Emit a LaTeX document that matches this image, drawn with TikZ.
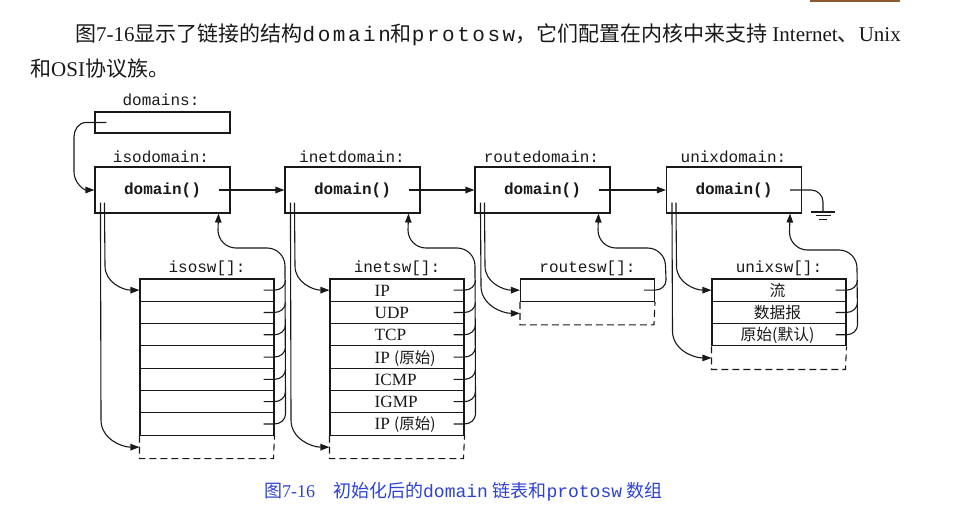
\documentclass[tikz,border=0pt]{standalone}
\usepackage{fontspec}
\setmainfont{Liberation Serif}
\newfontfamily\cjk{Noto Sans CJK SC}
\newfontfamily\cmono{Liberation Mono}
\newfontfamily\tmono[LetterSpace=12]{Liberation Mono}
\usetikzlibrary{arrows.meta}
\definecolor{capblue}{RGB}{45,65,215}
\definecolor{barbrown}{RGB}{140,90,50}
\definecolor{ink}{RGB}{25,25,25}
\begin{document}
\begin{tikzpicture}[x=1pt,y=-1pt,
  ln/.style={line width=1.1pt, draw=ink},
  arr/.style={ln, -{Triangle[length=9pt,width=6.5pt]}},
  dbox/.style={draw=ink, line width=1.1pt, minimum width=135pt, minimum height=46pt, inner sep=0pt,
     font=\fontsize{16}{16}\selectfont\cmono\bfseries, text=ink},
  ptrbox/.style={draw=ink, line width=1.1pt, minimum width=135pt, minimum height=21pt, inner sep=0pt},
  rowbox/.style={draw=ink, line width=1.1pt, minimum width=134pt, minimum height=22.3pt, inner sep=0pt},
  lbl/.style={font=\fontsize{16}{16}\selectfont\cmono, inner sep=0pt, text=ink},
  rowtxt/.style={font=\fontsize{17.2}{17.2}\selectfont, inner sep=0pt, text=ink},
  slot/.style={ln, dash pattern=on 7pt off 4pt},
  bodytxt/.style={anchor=base west, inner sep=0pt, font=\fontsize{21}{21}\selectfont, text=ink}
]
\useasboundingbox (0,0) rectangle (962,508);
\fill[barbrown] (810,0) rectangle (900,2.5);

% body text
\node[bodytxt] (txt1) at (75,42) {{\cjk 图}7-16{\cjk 显示了链接的结构}{\tmono domain}{\cjk 和}{\tmono protosw}{\cjk ，它们配置在内核中来支持} Internet{\cjk 、}Unix};
\node[bodytxt] (txt2) at (30,77) {{\cjk 和}OSI{\cjk 协议族。}};

% domains pointer
\node[lbl] (ldomains) at (161,100) {domains:};
\node[ptrbox] (dptr) at (162.5,122.5) {};

% domain structures
\node[lbl] (liso) at (161,157) {isodomain:};
\node[lbl] (linet) at (352,157) {inetdomain:};
\node[lbl] (lroute) at (541.5,157) {routedomain:};
\node[lbl] (lunix) at (733.5,157) {unixdomain:};
\node[dbox] (diso) at (162.5,190) {domain()};
\node[dbox] (dinet) at (352.5,190) {domain()};
\node[dbox] (droute) at (542.5,190) {domain()};
\node[dbox] (dunix) at (734,190) {domain()};

\draw[arr] ([xshift=12pt]dptr.west) -- (86,122.5) to[out=180,in=90] (74,137) -- (74,172) to[out=-90,in=180] (diso.west);
\draw[arr] ([xshift=-12pt]diso.east) -- (dinet.west);
\draw[arr] ([xshift=-12pt]dinet.east) -- (droute.west);
\draw[arr] ([xshift=-12pt]droute.east) -- (dunix.west);
% ground
\coordinate (gnd) at (823,212);
\draw[ln] ([xshift=-12pt]dunix.east) -- (811,190) to[out=0,in=90] (823,202) -- (gnd);
\draw[ln] ([xshift=-12pt]gnd) -- ([xshift=12pt]gnd);
\draw[ln] ([shift={(-7.5,3.8)}]gnd) -- ([shift={(7.5,3.8)}]gnd);
\draw[ln] ([shift={(-4,7.3)}]gnd) -- ([shift={(4,7.3)}]gnd);

% arrays
\node[lbl] (lisosw) at (207,268) {isosw[]:};
\node[lbl] (linetsw) at (397,268) {inetsw[]:};
\node[lbl] (lroutesw) at (587.5,268) {routesw[]:};
\node[lbl] (lunixsw) at (779,268) {unixsw[]:};

\foreach \k in {1,...,7} {
  \node[rowbox] (iso\k) at (207,{279+22.3*\k-11.15}) {};
  \node[rowbox] (inet\k) at (397,{279+22.3*\k-11.15}) {};
}
\node[rowbox] (route1) at (587.5,290.15) {};
\foreach \k in {1,...,3} {
  \node[rowbox] (unix\k) at (779,{279+22.3*\k-11.15}) {};
}

% empty terminating slots
\draw[slot] (iso7.south west) -- ++(0,23) -- ++(134,0) -- (iso7.south east);
\draw[slot] (inet7.south west) -- ++(0,23) -- ++(134,0) -- (inet7.south east);
\draw[slot] (route1.south west) -- ++(0,23) -- ++(134,0) -- (route1.south east);
\draw[slot] (unix3.south west) -- ++(0,23) -- ++(134,0) -- (unix3.south east);
\coordinate (isoE) at ([yshift=-11.5pt]iso7.south west);
\coordinate (inetE) at ([yshift=-11.5pt]inet7.south west);
\coordinate (routeE) at ([yshift=-11.5pt]route1.south west);
\coordinate (unixE) at ([yshift=-11.5pt]unix3.south west);

% row texts
\foreach \k/\t in {1/IP,2/UDP,3/TCP,4/{IP {\cjk\fontsize{15.5}{15.5}\selectfont (原始)}},5/ICMP,6/IGMP,7/{IP {\cjk\fontsize{15.5}{15.5}\selectfont (原始)}}} {
  \node[rowtxt, anchor=base west] (tinet\k) at ([shift={(45,6)}]inet\k.west) {\t};
}
\foreach \k/\t in {1/流,2/数据报,3/原始(默认)} {
  \node[rowtxt, anchor=base, font=\fontsize{15.8}{15.8}\selectfont\cjk] (tunix\k) at ([shift={(-1.5,6)}]unix\k.center) {\t};
}

% stubs and back pointers
\foreach \k in {1,...,7} {
  \draw[ln] ([xshift=-11pt]iso\k.east) -- (iso\k.east) to[out=0,in=-90] ([shift={(11,-10)}]iso\k.east);
  \draw[ln] ([xshift=-11pt]inet\k.east) -- (inet\k.east) to[out=0,in=-90] ([shift={(11,-10)}]inet\k.east);
}
\draw[ln] ([xshift=-11pt]route1.east) -- (route1.east) to[out=0,in=-90] ([shift={(11,-10)}]route1.east);
\foreach \k in {1,...,3} {
  \draw[ln] ([xshift=-11pt]unix\k.east) -- (unix\k.east) to[out=0,in=-90] ([shift={(11,-10)}]unix\k.east);
}
\draw[arr] ([shift={(11,-10)}]iso7.east) -- (285,266) to[out=90,in=0] (267,248) -- (236,248) to[out=180,in=-90] (218,230) -- ([xshift=-12pt]diso.south east);
\draw[arr] ([shift={(11,-10)}]inet7.east) -- (475,266) to[out=90,in=0] (457,248) -- (426,248) to[out=180,in=-90] (408,230) -- ([xshift=-12pt]dinet.south east);
\draw[arr] ([shift={(11,-10)}]route1.east) -- (665.5,266) to[out=90,in=0] (647.5,248) -- (616,248) to[out=180,in=-90] (598,230) -- ([xshift=-12pt]droute.south east);
\draw[arr] ([shift={(11,-10)}]unix3.east) -- (857,268) to[out=90,in=0] (839,250) -- (807.5,250) to[out=180,in=-90] (789.5,232) -- ([xshift=-12pt]dunix.south east);

% forward pointers to arrays
\draw[arr] ([shift={(10,-11)}]diso.south west) -- (105,266) to[out=-90,in=180] (iso1.west);
\draw[arr] ([shift={(6,-11)}]diso.south west) -- (101,420) to[out=-90,in=180] (isoE);
\draw[arr] ([shift={(10,-11)}]dinet.south west) -- (295,266) to[out=-90,in=180] (inet1.west);
\draw[arr] ([shift={(6,-11)}]dinet.south west) -- (291,420) to[out=-90,in=180] (inetE);
\draw[arr] ([shift={(10,-11)}]droute.south west) -- (485,266) to[out=-90,in=180] (route1.west);
\draw[arr] ([shift={(6,-11)}]droute.south west) -- (481,286) to[out=-90,in=180] (routeE);
\draw[arr] ([shift={(10,-11)}]dunix.south west) -- (676.5,266) to[out=-90,in=180] (unix1.west);
\draw[arr] ([shift={(6,-11)}]dunix.south west) -- (672.5,331) to[out=-90,in=180] (unixE);

% caption
\node[anchor=base west, inner sep=0pt, text=capblue, font=\fontsize{18}{18}\selectfont] (cap) at (264,497) {{\cjk 图}7-16\hspace{18pt}{\cjk 初始化后的}{\cmono domain} {\cjk 链表和}{\cmono protosw} {\cjk 数组}};
\end{tikzpicture}
\end{document}
